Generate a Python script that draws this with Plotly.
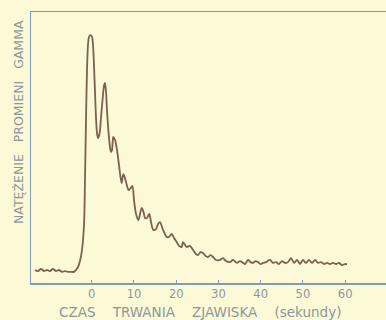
import plotly.graph_objects as go

# time in seconds, gamma-ray intensity (arbitrary units)
time_s = [-13.42, -12.71, -12.00, -11.29, -10.58, -9.87, -9.16, -8.45, -7.74, -7.03,
          -6.32, -5.61, -4.90, -4.19, -3.72, -3.24, -2.77, -2.30, -1.82, -1.59,
          -1.35, -1.11, -0.88, -0.64, -0.28, 0.07, 0.31, 0.54, 0.78, 1.02,
          1.25, 1.49, 1.85, 2.20, 2.56, 2.91, 3.15, 3.39, 3.62, 3.98,
          4.33, 4.57, 4.81, 5.11, 5.52, 5.99, 6.46, 6.82, 7.10, 7.48,
          7.88, 8.36, 8.71, 9.07, 9.61, 10.01, 10.49, 11.03, 11.84, 12.26,
          12.62, 13.09, 13.64, 14.04, 14.58, 15.22, 15.70, 16.17, 16.88, 17.76,
          18.30, 18.94, 19.48, 20.12, 20.67, 21.31, 21.61, 22.49, 23.27, 23.98,
          24.69, 25.17, 25.76, 26.35, 26.94, 27.53, 28.13, 28.72, 29.43, 30.37,
          31.08, 31.79, 32.74, 33.45, 34.40, 35.11, 35.58, 36.29, 37.00, 37.59,
          38.19, 38.78, 39.37, 39.96, 40.55, 41.26, 42.21, 42.92, 43.64, 44.34,
          45.05, 45.76, 46.47, 47.18, 47.89, 48.60, 49.31, 50.02, 50.73, 51.44,
          52.15, 52.87, 53.58, 54.29, 55.00, 55.71, 56.42, 57.13, 57.84, 58.55,
          59.26, 59.97, 60.44]
intensity = [4.8, 4.4, 5.2, 4.4, 4.8, 4.4, 5.2, 4.4, 4.8, 4.1,
             4.4, 4.1, 4.1, 4.1, 4.8, 5.9, 8.1, 12.2, 21.4, 38.0,
             60.1, 78.6, 87.8, 90.8, 91.5, 90.8, 87.8, 80.4, 70.5, 60.9,
             55.4, 53.5, 55.0, 60.9, 67.5, 72.7, 73.8, 70.5, 63.8, 55.7,
             50.2, 48.3, 49.1, 53.9, 52.8, 49.1, 43.5, 39.1, 36.9, 40.2,
             38.7, 35.8, 34.3, 34.7, 35.8, 30.6, 25.5, 23.2, 27.7, 26.2,
             24.0, 24.0, 25.5, 22.5, 19.6, 19.9, 21.8, 22.5, 19.6, 17.0,
             17.0, 18.1, 16.6, 15.1, 13.7, 13.3, 15.1, 13.3, 13.7, 12.2,
             10.7, 10.3, 11.4, 11.1, 10.0, 9.6, 10.3, 9.6, 8.5, 8.5,
             9.2, 8.1, 7.7, 8.5, 7.4, 8.1, 7.7, 7.0, 8.5, 7.7,
             7.4, 8.1, 7.7, 7.0, 7.4, 7.7, 8.5, 7.4, 7.7, 7.0,
             8.1, 7.4, 7.7, 9.2, 7.4, 8.5, 7.0, 8.5, 7.4, 8.5,
             7.4, 8.5, 7.4, 7.7, 7.0, 7.4, 7.0, 7.4, 7.0, 7.4,
             6.6, 7.0, 7.0]

tick_values = [0, 10, 20, 30, 40, 50, 60]
tick_labels = ["0", "10", "20", "30", "40", "50", "60"]

gap = "\u00a0" * 4
x_title = "CZAS" + gap + "TRWANIA" + gap + "ZJAWISKA" + gap + "(sekundy)"
y_title = "NATĘŻENIE\u00a0\u00a0\u00a0PROMIENI\u00a0\u00a0\u00a0GAMMA"

bg = "#fcf9d6"
axis_col = "#7f9cbf"
text_col = "#8c979c"
font_fam = "DejaVu Sans"

fig = go.Figure()
fig.add_trace(go.Scatter(
    x=time_s, y=intensity, mode="lines",
    line=dict(color="#7a6250", width=1.8, shape="spline", smoothing=0.8),
    hoverinfo="skip", showlegend=False,
))

fig.update_layout(
    width=386, height=320,
    margin=dict(l=31, r=0, t=12, b=37),
    paper_bgcolor=bg, plot_bgcolor=bg,
    font=dict(family=font_fam, color=text_col, size=11),
    xaxis=dict(
        range=[-14.37, 69.67], showgrid=False, zeroline=False,
        showline=True, linecolor=axis_col, linewidth=1.5, mirror=True,
        ticks="inside", ticklen=3, tickcolor=axis_col, tickwidth=1,
        tickvals=tick_values, ticktext=tick_labels,
        tickfont=dict(family=font_fam, color=text_col, size=11.5),
    ),
    yaxis=dict(
        range=[0, 100], showgrid=False, zeroline=False,
        showline=True, linecolor=axis_col, linewidth=1.5,
        showticklabels=False, ticks="",
    ),
    annotations=[
        dict(text=x_title, xref="paper", yref="paper", x=0.476, y=-0.107,
             xanchor="center", yanchor="middle", showarrow=False,
             font=dict(family=font_fam, color=text_col, size=13.5)),
        dict(text=y_title, xref="paper", yref="paper", x=-0.0366, y=0.594,
             xanchor="center", yanchor="middle", showarrow=False, textangle=-90,
             font=dict(family=font_fam, color=text_col, size=12.5)),
    ],
)

fig.write_html(
    "out.html",
    config={"displayModeBar": False, "staticPlot": True},
    post_script=(
        "document.documentElement.style.margin='0';"
        "document.body.style.margin='0';"
        "document.body.style.padding='0';"
        "document.body.style.overflow='hidden';"
        "document.body.style.background='" + bg + "';"
    ),
)
